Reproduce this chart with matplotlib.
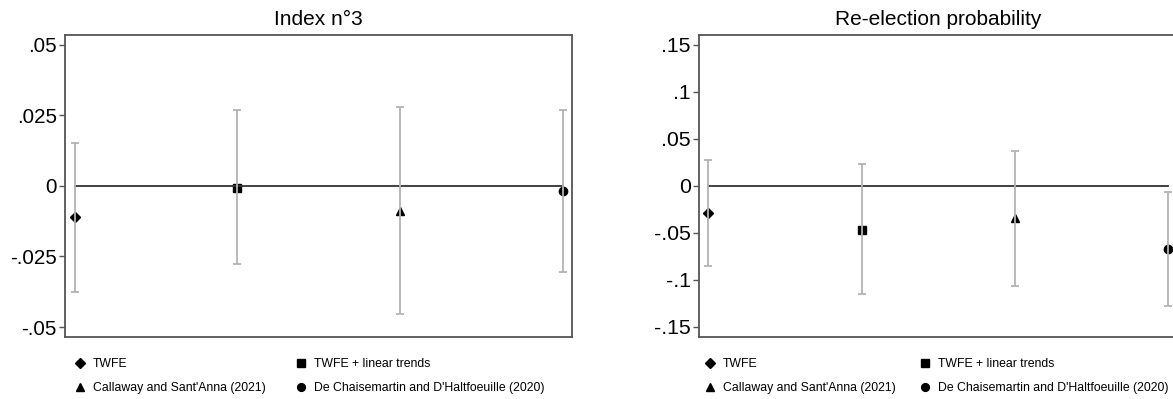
import matplotlib
matplotlib.use("Agg")
import matplotlib.pyplot as plt
from matplotlib.lines import Line2D
import numpy as np

plt.rcParams['font.family'] = ['Liberation Sans', 'DejaVu Sans']

# estimators, one column each
methods = ["TWFE", "TWFE + linear trends",
           "Callaway and Sant'Anna (2021)",
           "De Chaisemartin and D'Haltfoeuille (2020)"]
markers = ["D", "s", "^", "o"]
positions = [1, 2, 3, 4]

# Index n°3: point estimates and 95% CI bounds
index3_coef = [-0.0112, -0.0007, -0.0088, -0.0020]
index3_lo = [-0.0375, -0.0278, -0.0454, -0.0305]
index3_hi = [0.0151, 0.0268, 0.0278, 0.0268]
index3_ticks = [-0.05, -0.025, 0, 0.025, 0.05]
index3_labels = ["-.05", "-.025", "0", ".025", ".05"]

# Re-election probability
reelec_coef = [-0.0290, -0.0467, -0.0343, -0.0676]
reelec_lo = [-0.0850, -0.1154, -0.1062, -0.1278]
reelec_hi = [0.0276, 0.0227, 0.0369, -0.0064]
reelec_ticks = [-0.15, -0.1, -0.05, 0, 0.05, 0.1, 0.15]
reelec_labels = ["-.15", "-.1", "-.05", "0", ".05", ".1", ".15"]

W, H = 1173, 399
fig = plt.figure(figsize=(W / 100, H / 100), dpi=100)


def msize(m, base):
    return base - 0.8 if m == 'D' else base


def panel(rect, title, coef, lo, hi, ticks, labels, ylim, fs, leg_xy, colsp):
    ax = fig.add_axes(rect)
    coef = np.asarray(coef)
    lo = np.asarray(lo)
    hi = np.asarray(hi)
    for x, c, m in zip(positions, coef, markers):
        ax.plot(x, c, marker=m, color='black', ms=msize(m, 6),
                ls='none', zorder=2)
    # CI bars sit on top of the markers
    ax.errorbar(positions, coef, yerr=[coef - lo, hi - coef], fmt='none',
                ecolor='#b3b3b3', elinewidth=1.3, capsize=3.2,
                capthick=1.3, zorder=3)
    ax.plot([positions[0], positions[-1]], [0, 0], color='#333333',
            lw=1.3, zorder=2.5)
    ax.set_xlim(0.94, 4.06)
    ax.set_ylim(*ylim)
    ax.set_xticks([])
    ax.set_yticks(ticks)
    ax.set_yticklabels(labels)
    ax.tick_params(axis='y', length=4, width=1, pad=2, labelsize=fs,
                   color='#555555')
    for s in ax.spines.values():
        s.set_color('#555555')
        s.set_linewidth(1.3)
    ax.set_title(title, fontsize=15, pad=7)

    handles = [Line2D([], [], marker=m, color='black', ls='none',
                      ms=msize(m, 5.6)) for m in markers]
    order = [0, 2, 1, 3]
    fig.legend([handles[i] for i in order], [methods[i] for i in order],
               ncol=2, frameon=False, fontsize=8.8, handlelength=1.0,
               handletextpad=0.55, columnspacing=colsp, labelspacing=1.0,
               borderpad=0, borderaxespad=0, loc='upper left',
               bbox_to_anchor=(leg_xy[0] / W, 1 - leg_xy[1] / H))
    return ax


panel([65 / W, 1 - 336.7 / H, 507.3 / W, 301.7 / H], "Index n°3",
      index3_coef, index3_lo, index3_hi, index3_ticks, index3_labels,
      (-0.0534, 0.0534), 14.8, (74, 358), 2.4)
panel([699.3 / W, 1 - 336.7 / H, 478.3 / W, 301.7 / H],
      "Re-election probability",
      reelec_coef, reelec_lo, reelec_hi, reelec_ticks, reelec_labels,
      (-0.1604, 0.1601), 15.3, (704, 358), 1.9)

fig.savefig("out.png", dpi=100)
